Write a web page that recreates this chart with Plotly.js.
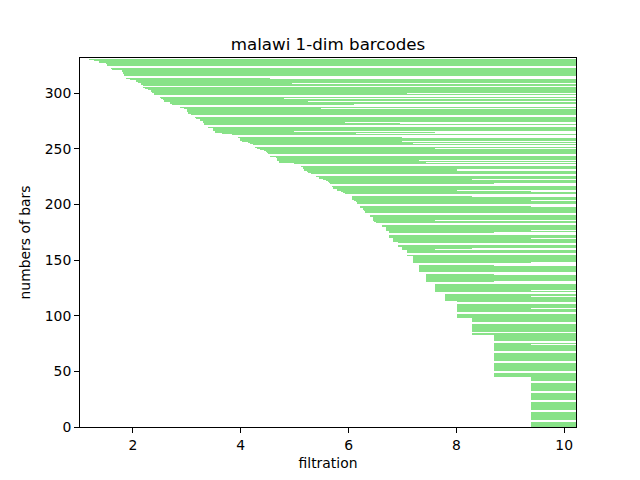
<!DOCTYPE html>
<html>
<head>
<meta charset="utf-8">
<script src="https://cdn.plot.ly/plotly-3.0.1.min.js"></script>
<style>html,body{margin:0;padding:0;background:#fff;}</style>
</head>
<body>
<div id="chart" style="width:640px;height:480px;"></div>
<script>
// Birth filtration values (run-length: value, number of consecutive bars), bottom bar first
const birthValues = [9.38, 8.70, 8.29, 8.01, 7.79, 7.60, 7.44, 7.31, 7.19, 7.08,
  6.99, 6.92, 6.82, 6.75, 6.69, 6.62, 6.56, 6.51, 6.47, 6.45,
  6.40, 6.31, 6.29, 6.27, 6.21, 6.18, 6.16, 6.14, 6.10, 6.06,
  5.99, 5.93, 5.90, 5.86, 5.78, 5.71, 5.69, 5.65, 5.63, 5.62,
  5.58, 5.53, 5.45, 5.40, 5.36, 5.30, 5.25, 5.23, 5.17, 5.16,
  5.12, 5.10, 4.99, 4.71, 4.67, 4.66, 4.54, 4.52, 4.50, 4.48,
  4.47, 4.43, 4.36, 4.30, 4.26, 4.23, 4.17, 4.13, 4.02, 3.99,
  3.95, 3.91, 3.84, 3.65, 3.52, 3.48, 3.39, 3.34, 3.32, 3.30,
  3.24, 3.17, 3.15, 3.08, 3.02, 3.00, 2.95, 2.87, 2.72, 2.69,
  2.57, 2.56, 2.52, 2.50, 2.46, 2.39, 2.35, 2.33, 2.28, 2.22,
  2.19, 2.15, 2.09, 2.06, 1.94, 1.87, 1.83, 1.82, 1.80, 1.61,
  1.59, 1.56, 1.52, 1.50, 1.37, 1.28, 1.18];
const birthCounts = [45, 38, 15, 15, 8, 9, 9, 8, 7, 5,
  3, 4, 4, 6, 4, 2, 1, 1, 1, 4,
  3, 2, 1, 2, 2, 1, 2, 1, 1, 4,
  1, 1, 1, 1, 2, 2, 2, 1, 1, 1,
  1, 1, 2, 1, 1, 1, 1, 1, 2, 2,
  1, 1, 1, 2, 3, 1, 1, 1, 1, 1,
  1, 1, 1, 1, 2, 1, 1, 1, 1, 3,
  1, 1, 1, 1, 2, 3, 1, 1, 2, 2,
  2, 1, 1, 2, 2, 3, 1, 1, 2, 2,
  2, 1, 1, 1, 1, 2, 1, 2, 1, 1,
  2, 2, 1, 2, 1, 2, 2, 2, 2, 1,
  1, 1, 2, 1, 2, 1, 1];

// Death value of bars that survive to the end of the filtration
const maxDeath = 10.22;
// Bars that die early (bar index, death value)
const earlyDeathIndex = [313, 308, 299, 297, 295, 292, 289, 286, 273, 272,
  270, 265, 264, 263, 260, 256, 254, 252, 250, 244,
  239, 237, 231, 230, 222, 218, 212, 211, 207, 203, 198,
  185, 182, 176, 174, 169, 164, 160, 159, 155, 147,
  145, 137, 130, 122, 117, 106, 74, 58];
const earlyDeathValue = [4.54, 4.95, 7.08, 6.27, 4.80, 5.25, 6.10, 5.49, 5.93, 6.95,
  5.65, 4.99, 7.60, 6.14, 6.99, 6.99, 7.19, 8.29, 7.60, 7.44,
  7.31, 7.44, 8.01, 8.01, 8.29, 8.70, 8.01, 9.38, 8.29, 9.38, 9.38,
  7.60, 9.38, 9.38, 8.70, 9.38, 7.60, 8.29, 7.60, 9.38, 9.38,
  8.70, 8.70, 8.70, 9.38, 9.38, 9.38, 9.38, 9.38];

const xTicks = [2, 4, 6, 8, 10];
const yTicks = [0, 50, 100, 150, 200, 250, 300];

// expand data
const births = [];
birthValues.forEach((v, k) => { for (let j = 0; j < birthCounts[k]; j++) births.push(v); });
const deaths = births.map(() => maxDeath);
earlyDeathIndex.forEach((i, k) => { deaths[i] = earlyDeathValue[k]; });
const barIndex = births.map((_, i) => i);
const lengths = births.map((b, i) => deaths[i] - b);

const trace = {
  type: 'bar', orientation: 'h',
  y: barIndex, x: lengths, base: births,
  width: 0.8, offset: 0,
  marker: {color: 'rgba(136,226,136,0.999)', line: {width: 0}},
  hoverinfo: 'skip'
};

const axisCommon = {
  showline: true, mirror: true, linecolor: 'black', linewidth: 1.1,
  ticks: 'outside', ticklen: 4.9, tickwidth: 1.1, tickcolor: 'black',
  showgrid: false, zeroline: false,
  tickfont: {family: 'DejaVu Sans', size: 13.9, color: 'black'}
};

const layout = {
  width: 640, height: 480,
  margin: {l: 80, r: 64, t: 58, b: 53, pad: 0},
  paper_bgcolor: 'white', plot_bgcolor: 'white',
  font: {family: 'DejaVu Sans', size: 13.9, color: 'black'},
  showlegend: false,
  bargap: 0, bargroupgap: 0,
  title: {text: 'malawi 1-dim barcodes', font: {family: 'DejaVu Sans', size: 16.7, color: 'black'},
    xref: 'paper', x: 0.5, xanchor: 'center', yref: 'container', y: 1 - 44/480, yanchor: 'middle'},
  xaxis: Object.assign({}, axisCommon, {
    range: [1.017, 10.22], tickvals: xTicks, ticktext: xTicks.map(String),
    title: {text: 'filtration', standoff: 6, font: {family: 'DejaVu Sans', size: 13.9, color: 'black'}}
  }),
  yaxis: Object.assign({}, axisCommon, {
    range: [0, 331.5], tickvals: yTicks, ticktext: yTicks.map(String),
    title: {text: 'numbers of bars', standoff: 10, font: {family: 'DejaVu Sans', size: 13.9, color: 'black'}}
  })
};

Plotly.newPlot('chart', [trace], layout, {displayModeBar: false, responsive: false});
</script>
</body>
</html>
